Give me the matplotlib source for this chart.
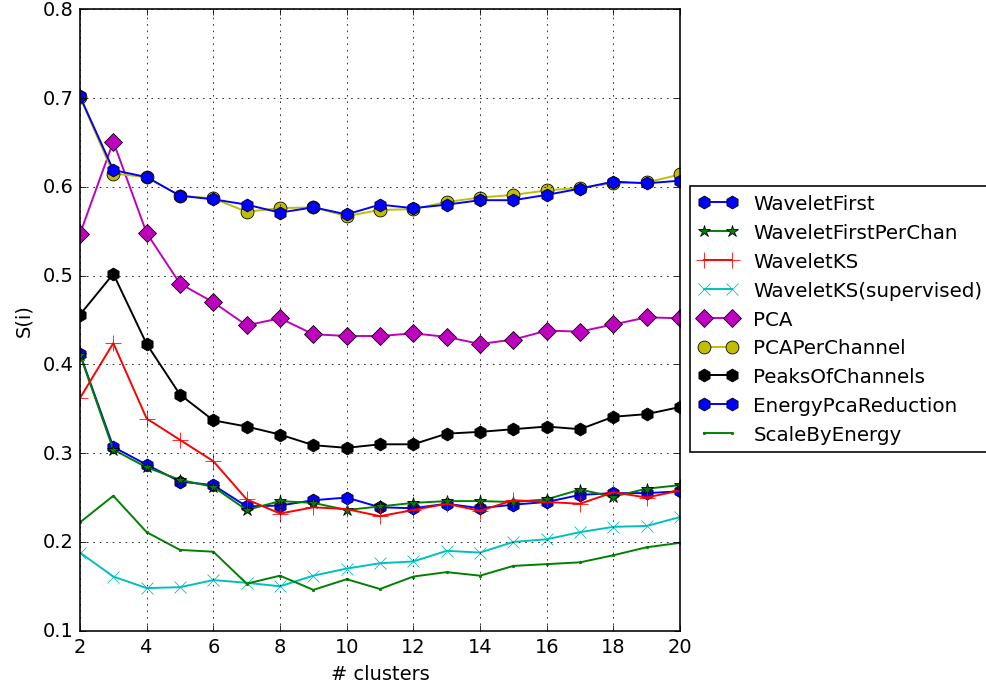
import matplotlib
matplotlib.use("Agg")
import matplotlib.pyplot as plt

plt.style.use("classic")

clusters = list(range(2, 21))

wavelet_first = [0.412, 0.307, 0.287, 0.268, 0.264, 0.240, 0.241, 0.247, 0.250, 0.239,
                 0.238, 0.243, 0.238, 0.242, 0.245, 0.253, 0.255, 0.255, 0.257]
wavelet_first_per_chan = [0.411, 0.304, 0.284, 0.270, 0.262, 0.236, 0.246, 0.244, 0.236, 0.240,
                          0.244, 0.246, 0.246, 0.245, 0.248, 0.259, 0.251, 0.260, 0.264]
wavelet_ks = [0.362, 0.424, 0.339, 0.315, 0.291, 0.248, 0.232, 0.239, 0.237, 0.229,
              0.236, 0.243, 0.235, 0.247, 0.245, 0.243, 0.256, 0.250, 0.258]
wavelet_ks_supervised = [0.188, 0.161, 0.148, 0.149, 0.157, 0.154, 0.150, 0.162, 0.170, 0.176,
                         0.178, 0.190, 0.188, 0.200, 0.203, 0.211, 0.217, 0.218, 0.228]
pca = [0.547, 0.651, 0.548, 0.491, 0.470, 0.444, 0.452, 0.434, 0.432, 0.432,
       0.435, 0.431, 0.423, 0.428, 0.438, 0.437, 0.445, 0.453, 0.452]
pca_per_channel = [0.701, 0.615, 0.611, 0.590, 0.587, 0.572, 0.576, 0.577, 0.567, 0.574,
                   0.575, 0.583, 0.588, 0.591, 0.596, 0.599, 0.604, 0.605, 0.614]
peaks_of_channels = [0.456, 0.502, 0.423, 0.366, 0.337, 0.330, 0.321, 0.309, 0.306, 0.310,
                     0.310, 0.322, 0.324, 0.327, 0.330, 0.327, 0.341, 0.344, 0.352]
energy_pca_reduction = [0.702, 0.619, 0.611, 0.590, 0.586, 0.580, 0.571, 0.577, 0.569, 0.580,
                        0.576, 0.580, 0.585, 0.585, 0.591, 0.598, 0.606, 0.604, 0.607]
scale_by_energy = [0.222, 0.252, 0.211, 0.191, 0.189, 0.153, 0.162, 0.146, 0.158, 0.147,
                   0.161, 0.166, 0.162, 0.173, 0.175, 0.177, 0.185, 0.194, 0.199]

series = [
    ("WaveletFirst", wavelet_first, "b", "h", 8),
    ("WaveletFirstPerChan", wavelet_first_per_chan, "g", "*", 8),
    ("WaveletKS", wavelet_ks, "r", "+", 10),
    ("WaveletKS(supervised)", wavelet_ks_supervised, "c", "x", 8),
    ("PCA", pca, "m", "D", 8),
    ("PCAPerChannel", pca_per_channel, "y", "o", 8),
    ("PeaksOfChannels", peaks_of_channels, "k", "h", 8),
    ("EnergyPcaReduction", energy_pca_reduction, "b", "h", 8),
    ("ScaleByEnergy", scale_by_energy, "g", ".", 3),
]

fig = plt.figure(figsize=(8.5, 5.922), dpi=116, facecolor="white")
ax = fig.add_axes([0.0811, 0.0805, 0.6086, 0.9045])

for name, vals, color, marker, ms in series:
    ax.plot(clusters, vals, color=color, marker=marker, markersize=ms,
            linewidth=1.2, label=name)

ax.set_xlim(2, 20)
ax.set_ylim(0.1, 0.8)
ax.set_xticks(range(2, 21, 2))
ax.grid(True)
ax.set_xlabel("# clusters")
ax.set_ylabel("S(i)", labelpad=6)

ax.legend(loc="upper left", bbox_to_anchor=(0.6998, 0.7278),
          bbox_transform=fig.transFigure, borderaxespad=0,
          numpoints=2, fontsize=12.3)

fig.savefig("out.png", dpi=116, facecolor="white")
